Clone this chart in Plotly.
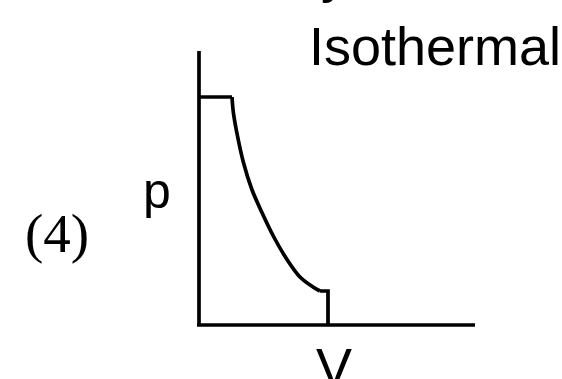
import plotly.graph_objects as go

# Data (V, p in arbitrary units)
V_axis = [-0.2, 27.6]
p_axis = [0, 0]
V_paxis = [0, 0]
p_paxis = [0, 27.4]

V_top = [0, 3.3]
p_top = [22.8, 22.8]

V_curve = [3.3, 3.43, 3.77, 4.43, 5.27, 6.27, 7.43, 8.77, 10.1, 11.4, 12.1]
p_curve = [22.8, 21.3, 19.3, 16.3, 13.6, 11.3, 8.9, 6.6, 4.8, 3.8, 3.4]

V_end = [12.1, 12.9, 12.9]
p_end = [3.4, 3.4, 0]

W, H = 562, 379
X0, Y0, S = 199, 325, 10.0  # pixel of origin, pixels per unit

def dx(px):
    return (px - X0) / S

def dy(py):
    return (Y0 - py) / S

LW = 3.7
black = "#000000"

fig = go.Figure()
for xs, ys, shape in [(V_axis, p_axis, "linear"), (V_paxis, p_paxis, "linear"),
                      (V_top, p_top, "linear"), (V_curve, p_curve, "spline"),
                      (V_end, p_end, "linear")]:
    fig.add_trace(go.Scatter(x=xs, y=ys, mode="lines",
                             line=dict(color=black, width=LW, shape=shape),
                             hoverinfo="skip", showlegend=False))

sans = "Liberation Sans, Arial, sans-serif"
serif = "Liberation Serif, Times New Roman, serif"
ann = [
    dict(text="Isothermal", x=dx(307), y=dy(46), xanchor="left", yanchor="middle",
         font=dict(family=sans, size=54, color=black)),
    dict(text="p", x=dx(141), y=dy(191), xanchor="left", yanchor="middle",
         font=dict(family=sans, size=50, color=black)),
    dict(text="(4)", x=dx(57), y=dy(233), xanchor="center", yanchor="middle",
         font=dict(family=serif, size=55, color=black)),
    dict(text="V", x=dx(334), y=dy(367), xanchor="center", yanchor="middle",
         font=dict(family=sans, size=54, color=black)),
]
for a in ann:
    fig.add_annotation(xref="x", yref="y", showarrow=False, **a)

# partial glyph of the line above, cut by the top edge
fig.add_annotation(xref="x", yref="paper", x=dx(334), y=1.0, yshift=27,
                   xanchor="center", yanchor="middle", showarrow=False,
                   text="y", font=dict(family=sans, size=54, color=black))

fig.update_layout(
    width=W, height=H,
    margin=dict(l=0, r=0, t=0, b=0),
    paper_bgcolor="white", plot_bgcolor="white",
    xaxis=dict(visible=False, range=[dx(0), dx(W)], fixedrange=True),
    yaxis=dict(visible=False, range=[dy(H), dy(0)], fixedrange=True),
)
fig.write_html("out.html", config={"displayModeBar": False},
               post_script="document.body.style.margin='0';document.body.style.overflow='hidden';")
